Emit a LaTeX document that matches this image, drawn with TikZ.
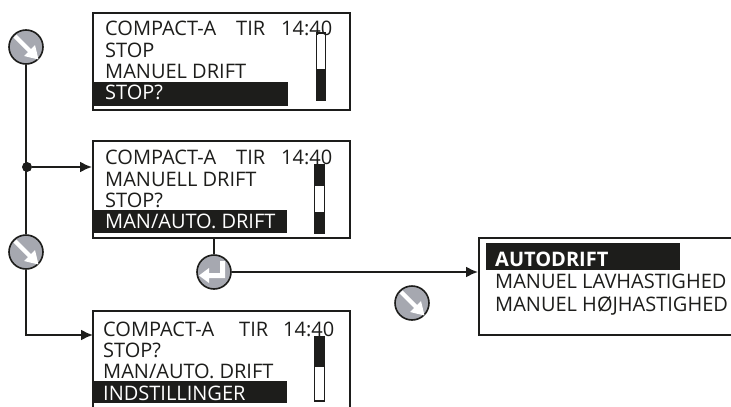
\documentclass[tikz,border=0pt]{standalone}
\usepackage{fontspec}
\setmainfont{Open Sans}
\definecolor{ink}{HTML}{1D1D1B}
\definecolor{btn}{HTML}{A6A8B0}
\tikzset{
  screen/.style={draw=ink,line width=2pt,fill=white,inner sep=0pt,rectangle},
  lbl/.style={anchor=base west,inner sep=0pt,text=ink,font=\fontsize{20}{20}\selectfont},
  lblw/.style={lbl,text=white},
  bar/.style={fill=ink,draw=none},
  sbar/.style={draw=ink,line width=1.2pt,fill=white},
  sfill/.style={fill=ink,draw=ink,line width=1.2pt},
  key/.style={circle,draw=ink,line width=1.6pt,fill=btn,minimum size=34pt,inner sep=0pt},
  wire/.style={draw=ink,line width=1.9pt},
  awire/.style={wire,-{Latex[length=12pt,width=11pt]}},
  glyph/.style={fill=white,draw=none},
}
\usetikzlibrary{arrows.meta}
\newcommand{\downkey}[1]{%
  \fill[glyph,shift={(#1)}] (-12.5,-9.5) -- (-9.5,-12.5) -- (5,2) -- (9,-2) -- (12.5,12.5) -- (-2,9) -- (2,5) -- cycle;}
\begin{document}
\begin{tikzpicture}[x=1pt,y=-1pt]
\useasboundingbox (0,0) rectangle (731,407);
\clip (0,0) rectangle (731,407);
% screens
\node[screen,minimum width=257pt,minimum height=97pt] (s1) at (221.5,61.5) {};
\node[screen,minimum width=257pt,minimum height=97pt] (s2) at (221.5,189.5) {};
\node[screen,minimum width=257pt,minimum height=110pt] (s3) at (221.5,366) {};
\node[screen,minimum width=266pt,minimum height=97pt] (s4) at (612,286.5) {};
% highlight bars
\fill[bar] (94,82) rectangle (288,106);
\fill[bar] (94,210) rectangle (287,233);
\fill[bar] (94,381) rectangle (287,403);
\fill[bar] (486,243) rectangle (680,270);
% scroll bars
\draw[sbar] (316.5,33) rectangle (325.5,100);
\draw[sfill] (316.5,70) rectangle (325.5,100);
\draw[sbar] (314.5,165) rectangle (324.5,233);
\draw[sfill] (314.5,165) rectangle (324.5,185);
\draw[sfill] (314.5,213) rectangle (324.5,232.5);
\draw[sbar] (314.5,337) rectangle (324.5,401);
\draw[sfill] (314.5,337) rectangle (324.5,366);
% text screen 1
\node[lbl] (t11) at (105,35) {COMPACT-A};
\node[lbl] (t12) at (236,35) {TIR};
\node[lbl] (t13) at (281,35) {14:40};
\node[lbl] (t14) at (105,57) {STOP};
\node[lbl] (t15) at (105,78) {MANUEL DRIFT};
\node[lblw] (t16) at (105,99) {STOP?};
% text screen 2
\node[lbl] (t21) at (105,164) {COMPACT-A};
\node[lbl] (t22) at (236,164) {TIR};
\node[lbl] (t23) at (281,164) {14:40};
\node[lbl] (t24) at (105,186) {MANUELL DRIFT};
\node[lbl] (t25) at (105,207) {STOP?};
\node[lblw] (t26) at (105,228) {MAN/AUTO. DRIFT};
% text screen 3
\node[lbl] (t31) at (103,336) {COMPACT-A};
\node[lbl] (t32) at (239,336) {TIR};
\node[lbl] (t33) at (283,336) {14:40};
\node[lbl] (t34) at (103,357) {STOP?};
\node[lbl] (t35) at (103,378) {MAN/AUTO. DRIFT};
\node[lblw] (t36) at (103,400) {INDSTILLINGER};
% text screen 4
\node[lblw,font=\fontsize{20}{20}\selectfont\bfseries] (t41) at (495,266) {AUTODRIFT};
\node[lbl] (t42) at (495,288) {MANUEL LAVHASTIGHED};
\node[lbl] (t43) at (495,311) {MANUEL HØJHASTIGHED};
% keys
\node[key] (k1) at (26,47) {};
\node[key] (k2) at (26,252) {};
\node[key] (k3) at (214,272) {};
\node[key] (k4) at (412,303) {};
\node[circle,fill=ink,minimum size=10pt,inner sep=0pt] (j) at (27,167) {};
\coordinate (in3) at (93,335);
% connectors
\draw[wire] (k1) -- (k1 |- j);
\draw[wire] (k1 |- j) -- (k2);
\draw[awire] (j) -- (s2.west |- j);
\draw[awire] (k2) |- (in3);
\draw[wire] (s2.south -| k3) -- (k3);
\draw[awire] (k3) -- (s4.west |- k3);
% glyphs
\downkey{k1}
\downkey{k2}
\downkey{k4}
\fill[glyph,shift={(k3)}] (6,-11) -- (11,-11) -- (11,6) -- (-5,6) -- (-5,11) -- (-15,3.5) -- (-5,-4) -- (-5,1) -- (6,1) -- cycle;
\end{tikzpicture}
\end{document}
